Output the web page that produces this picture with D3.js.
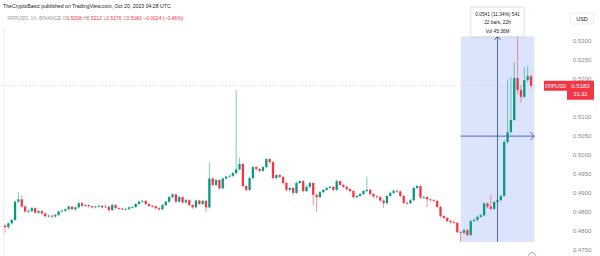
<!DOCTYPE html>
<html lang="en">
<head>
  <meta charset="UTF-8" />
  <title>XRPUSD 1h candles</title>
  <script src="https://d3js.org/d3.v7.min.js"></script>
  <style>
    body { margin: 0; background: #fff; }
    svg { display: block; font-family: "Liberation Sans", Arial, sans-serif; }
  </style>
</head>
<body>
  <svg width="600" height="256"></svg>
  <script>
    // hourly OHLC, left to right
    const opens = [
      .4815,.4811,.4821,.4830,.4878,.4884,.4865,.4852,.4853,.4861,
      .4849,.4853,.4847,.4840,.4841,.4839,.4843,.4852,.4854,.4858,
      .4865,.4858,.4863,.4874,.4867,.4869,.4866,.4863,.4865,.4867,
      .4863,.4865,.4856,.4869,.4861,.4860,.4858,.4859,.4863,.4864,
      .4872,.4878,.4880,.4872,.4867,.4866,.4861,.4858,.4869,.4878,
      .4890,.4897,.4878,.4890,.4876,.4882,.4869,.4863,.4881,.4872,
      .4880,.4863,.4939,.4922,.4935,.4913,.4939,.4944,.4946,.4953,
      .4963,.4977,.4919,.4909,.4940,.4969,.4964,.4959,.4969,.4990,
      .4982,.4940,.4948,.4943,.4927,.4909,.4914,.4901,.4927,.4932,
      .4906,.4917,.4927,.4896,.4890,.4903,.4909,.4914,.4917,.4909,
      .4932,.4922,.4917,.4911,.4906,.4890,.4893,.4898,.4906,.4909,
      .4898,.4892,.4890,.4881,.4874,.4893,.4901,.4907,.4905,.4893,
      .4875,.4874,.4882,.4914,.4919,.4889,.4890,.4884,.4882,.4880,
      .4864,.4840,.4835,.4827,.4824,.4822,.4798,.4796,.4803,.4790,
      .4827,.4830,.4838,.4842,.4873,.4865,.4859,.4877,.4882,.4893,
      .5035,.5061,.5093,.5203,.5172,.5154,.5198,.5208
    ];
    const highs = [
      .4818,.4824,.4833,.4881,.4903,.4895,.4868,.4858,.4864,.4863,
      .4856,.4857,.4850,.4845,.4844,.4846,.4855,.4858,.4861,.4868,
      .4867,.4866,.4878,.4876,.4872,.4871,.4868,.4868,.4870,.4869,
      .4872,.4867,.4873,.4871,.4864,.4862,.4862,.4866,.4867,.4875,
      .4881,.4883,.4882,.4874,.4870,.4868,.4864,.4872,.4881,.4893,
      .4901,.4899,.4894,.4892,.4886,.4884,.4872,.4884,.4883,.4883,
      .4882,.4981,.4942,.4939,.4937,.4942,.4947,.4950,.4957,.5172,
      .4993,.4980,.4922,.4944,.4973,.4972,.4967,.4972,.4994,.4993,
      .4985,.4951,.4951,.4946,.4930,.4918,.4917,.4931,.4935,.4935,
      .4921,.4931,.4930,.4899,.4906,.4912,.4917,.4921,.4920,.4936,
      .4935,.4925,.4920,.4914,.4909,.4897,.4902,.4909,.4943,.4912,
      .4901,.4895,.4893,.4884,.4896,.4905,.4910,.4910,.4908,.4896,
      .4879,.4885,.4918,.4923,.4922,.4894,.4893,.4887,.4885,.4883,
      .4867,.4843,.4838,.4830,.4829,.4825,.4801,.4807,.4806,.4831,
      .4834,.4842,.4846,.4877,.4876,.4896,.4881,.4886,.4897,.5040,
      .5200,.5206,.5245,.5313,.5185,.5232,.5235,.5212
    ];
    const lows = [
      .4796,.4806,.4818,.4827,.4874,.4862,.4849,.4848,.4850,.4846,
      .4845,.4843,.4836,.4836,.4834,.4835,.4840,.4849,.4851,.4855,
      .4855,.4853,.4860,.4864,.4864,.4863,.4860,.4860,.4862,.4860,
      .4861,.4852,.4853,.4858,.4857,.4855,.4855,.4856,.4860,.4861,
      .4869,.4875,.4869,.4864,.4862,.4857,.4854,.4855,.4866,.4875,
      .4887,.4875,.4875,.4872,.4873,.4866,.4859,.4860,.4869,.4868,
      .4851,.4860,.4918,.4919,.4909,.4910,.4936,.4941,.4943,.4950,
      .4961,.4915,.4905,.4906,.4937,.4960,.4955,.4956,.4966,.4978,
      .4936,.4937,.4939,.4923,.4905,.4904,.4896,.4898,.4924,.4902,
      .4903,.4914,.4869,.4851,.4887,.4900,.4906,.4911,.4905,.4906,
      .4918,.4913,.4907,.4902,.4886,.4886,.4890,.4895,.4903,.4894,
      .4888,.4886,.4877,.4861,.4871,.4890,.4898,.4901,.4889,.4871,
      .4870,.4871,.4879,.4911,.4885,.4885,.4864,.4878,.4876,.4860,
      .4836,.4831,.4823,.4820,.4818,.4793,.4772,.4792,.4786,.4787,
      .4824,.4826,.4835,.4839,.4861,.4855,.4856,.4874,.4879,.4890,
      .5030,.5057,.5090,.5160,.5138,.5150,.5192,.5176
    ];
    const closes = [
      .4811,.4821,.4830,.4878,.4884,.4865,.4852,.4853,.4861,.4849,
      .4853,.4847,.4840,.4841,.4839,.4843,.4852,.4854,.4858,.4865,
      .4858,.4863,.4874,.4867,.4869,.4866,.4863,.4865,.4867,.4863,
      .4865,.4856,.4869,.4861,.4860,.4858,.4859,.4863,.4864,.4872,
      .4878,.4880,.4872,.4867,.4866,.4861,.4858,.4869,.4878,.4890,
      .4897,.4878,.4890,.4876,.4882,.4869,.4863,.4881,.4872,.4880,
      .4863,.4939,.4922,.4935,.4913,.4939,.4944,.4946,.4953,.4963,
      .4977,.4919,.4909,.4940,.4969,.4964,.4959,.4969,.4990,.4982,
      .4940,.4948,.4943,.4927,.4909,.4914,.4901,.4927,.4932,.4906,
      .4917,.4927,.4896,.4890,.4903,.4909,.4914,.4917,.4909,.4932,
      .4922,.4917,.4911,.4906,.4890,.4893,.4898,.4906,.4909,.4898,
      .4892,.4890,.4881,.4874,.4893,.4901,.4907,.4905,.4893,.4875,
      .4874,.4882,.4914,.4919,.4889,.4890,.4884,.4882,.4880,.4864,
      .4840,.4835,.4827,.4824,.4822,.4798,.4796,.4803,.4790,.4827,
      .4830,.4838,.4842,.4873,.4865,.4859,.4877,.4882,.4893,.5035,
      .5061,.5093,.5203,.5172,.5154,.5198,.5208,.5183
    ];

    const priceTicks = [0.475, 0.48, 0.485, 0.49, 0.495, 0.5, 0.505, 0.51, 0.515, 0.52, 0.525, 0.53];

    // measuring tool: from bar 136 low to bar 153 high, 22 bars wide
    const measureFrom = 136, measureTo = 158, measureCross = 147;
    const measureLow = 0.4772, measureHigh = 0.5313, measureMid = 0.50505;
    const measureLines = ["0.0541 (11.34%) 541", "22 bars, 22h", "Vol 45.36M"];

    const UP = "#089981", DOWN = "#f23645";

    const svg = d3.select("svg");
    const candles = closes.map((c, i) => ({ i, o: opens[i], h: highs[i], l: lows[i], c }));

    const x = d3.scaleLinear().domain([0, closes.length - 1]).range([5, 531]);
    const y = d3.scaleLinear().domain([0.475, 0.53]).range([250.3, 41.3]);
    const bodyW = 2.3;

    // header text
    svg.append("text").attr("x", 3).attr("y", 8)
      .attr("font-size", 5.2).attr("fill", "#222")
      .text("TheCryptoBasic published on TradingView.com, Oct 20, 2023 04:28 UTC");

    const legend = svg.append("text").attr("x", 7).attr("y", 19.5).attr("font-size", 5).attr("fill", "#999");
    legend.append("tspan").text("XRPUSD, 1h, BINANCE  ");
    [["O", opens.at(-1)], ["H", highs.at(-1)], ["L", lows.at(-1)], ["C", closes.at(-1)]].forEach(([k, v]) => {
      legend.append("tspan").attr("fill", "#999").text(" " + k);
      legend.append("tspan").attr("fill", DOWN).text(v.toFixed(4));
    });
    legend.append("tspan").attr("fill", DOWN).text("  \u22120.0024 (\u22120.46%)");

    // faint session line at the left
    svg.append("line").attr("x1", 3.5).attr("x2", 3.5).attr("y1", 28).attr("y2", 256)
      .attr("stroke", "#ececec").attr("stroke-width", 0.8);

    // measure rectangle
    svg.append("rect")
      .attr("x", x(measureFrom)).attr("width", x(measureTo) - x(measureFrom))
      .attr("y", y(measureHigh)).attr("height", y(measureLow) - y(measureHigh))
      .attr("fill", "#dce4fb");

    // last price line
    svg.append("line").attr("x1", 0).attr("x2", 542)
      .attr("y1", y(closes.at(-1))).attr("y2", y(closes.at(-1)))
      .attr("stroke", "#c9c9c9").attr("stroke-width", 0.7).attr("stroke-dasharray", "1,1.5");

    // candles
    const g = svg.append("g");
    g.selectAll("line.wick").data(candles).join("line")
      .attr("class", "wick")
      .attr("x1", d => x(d.i)).attr("x2", d => x(d.i))
      .attr("y1", d => y(d.h)).attr("y2", d => y(d.l))
      .attr("stroke", d => d.c >= d.o ? UP : DOWN)
      .attr("stroke-opacity", 0.75)
      .attr("stroke-width", 0.7);
    g.selectAll("rect.body").data(candles).join("rect")
      .attr("class", "body")
      .attr("x", d => x(d.i) - bodyW / 2).attr("width", bodyW)
      .attr("y", d => y(Math.max(d.o, d.c)))
      .attr("height", d => Math.max(0.8, Math.abs(y(d.o) - y(d.c))))
      .attr("fill", d => d.c >= d.o ? UP : DOWN);

    // measure crosshair with arrows
    const blue = "#3a5fb0";
    const cx = x(measureCross), my = y(measureMid), tipBottom = y(measureHigh);
    svg.append("line").attr("x1", cx).attr("x2", cx).attr("y1", tipBottom).attr("y2", y(measureLow))
      .attr("stroke", blue).attr("stroke-width", 0.9);
    svg.append("line").attr("x1", x(measureFrom)).attr("x2", x(measureTo)).attr("y1", my).attr("y2", my)
      .attr("stroke", blue).attr("stroke-width", 0.9);
    svg.append("path")
      .attr("d", `M${x(measureTo) - 4},${my - 4}L${x(measureTo)},${my}L${x(measureTo) - 4},${my + 4}`)
      .attr("fill", "none").attr("stroke", blue).attr("stroke-width", 0.9);
    svg.append("path")
      .attr("d", `M${cx - 3},${tipBottom + 3.5}L${cx},${tipBottom}L${cx + 3},${tipBottom + 3.5}`)
      .attr("fill", "none").attr("stroke", blue).attr("stroke-width", 0.9);

    // measure tooltip
    const tip = svg.append("g").attr("transform", `translate(${cx},${tipBottom})`);
    tip.append("rect").attr("x", -26.5).attr("y", -29).attr("width", 53).attr("height", 29)
      .attr("fill", "#fff").attr("stroke", "#e2e2e2").attr("stroke-width", 0.6)
      .style("filter", "drop-shadow(0 0.5px 1px rgba(0,0,0,0.15))");
    tip.selectAll("text").data(measureLines).join("text")
      .attr("x", 0).attr("y", (d, i) => -20.5 + i * 8.4)
      .attr("text-anchor", "middle").attr("font-size", 4.8).attr("fill", "#222")
      .text(d => d);

    // last price badge position; tick labels fully under it are left out
    const ly = y(closes.at(-1));
    const badgeTop = ly - 5, badgeBottom = ly + 14;

    // price axis
    svg.append("g").selectAll("text")
      .data(priceTicks.filter(d => !(y(d) > badgeTop + 2 && y(d) < badgeBottom + 2)))
      .join("text")
      .attr("x", 573).attr("y", d => y(d)).attr("dy", "0.35em")
      .attr("font-size", 6).attr("fill", "#8a8a8a")
      .text(d => d.toFixed(4));

    // currency box
    svg.append("rect").attr("x", 570.5).attr("y", 13).attr("width", 23.5).attr("height", 11).attr("rx", 1.5)
      .attr("fill", "#fff").attr("stroke", "#e3e3e3").attr("stroke-width", 0.6);
    svg.append("text").attr("x", 582).attr("y", 20.5).attr("text-anchor", "middle")
      .attr("font-size", 5.5).attr("fill", "#222").text("USD");

    // last price badge
    svg.append("rect").attr("x", 544).attr("y", badgeTop).attr("width", 23).attr("height", 10).attr("fill", DOWN);
    svg.append("text").attr("x", 555.5).attr("y", ly).attr("dy", "0.35em").attr("text-anchor", "middle")
      .attr("font-size", 5.2).attr("fill", "#fff").text("XRPUSD");
    svg.append("rect").attr("x", 567).attr("y", badgeTop).attr("width", 27).attr("height", badgeBottom - badgeTop).attr("fill", DOWN);
    svg.append("text").attr("x", 580.5).attr("y", ly).attr("dy", "0.35em").attr("text-anchor", "middle")
      .attr("font-size", 6).attr("fill", "#fff").text(closes.at(-1).toFixed(4));
    svg.append("text").attr("x", 580.5).attr("y", ly + 8.5).attr("dy", "0.35em").attr("text-anchor", "middle")
      .attr("font-size", 5.5).attr("fill", "#fff").text("31:32");

    // small icon at the bottom
    svg.append("circle").attr("cx", 532).attr("cy", 256).attr("r", 3.5)
      .attr("fill", "#fff").attr("stroke", "#777").attr("stroke-width", 0.6);
  </script>
</body>
</html>
